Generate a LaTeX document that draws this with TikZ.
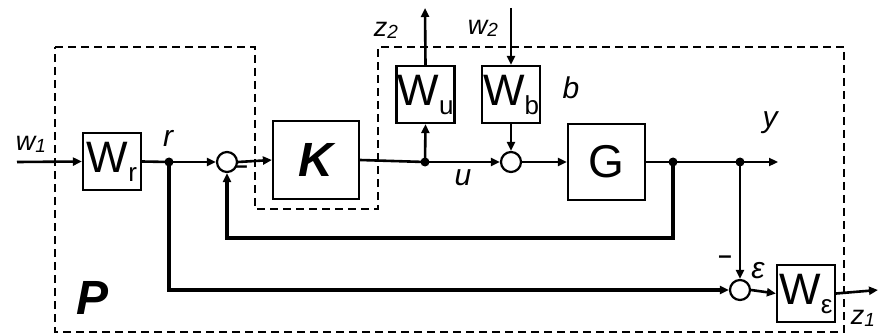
\documentclass[tikz,border=0pt]{standalone}
\usepackage{fontspec}
\setmainfont{Liberation Sans}
\usetikzlibrary{arrows.meta}
\newcommand\fsz[1]{\fontsize{#1}{#1}\selectfont}
\begin{document}
\begin{tikzpicture}[x=1pt,y=-1pt,
  blk/.style={draw, line width=2.2pt, minimum width=58pt, minimum height=57pt, inner sep=0pt},
  sumc/.style={circle, draw, line width=2.2pt, minimum size=20pt, inner sep=0pt},
  jdot/.style={circle, fill, minimum size=9pt, inner sep=0pt},
  sig/.style={line width=2.6pt},
  fb/.style={line width=3.2pt},
  arr/.style={-{Triangle[length=9pt,width=8pt]}},
  dsh/.style={line width=2.4pt, dash pattern=on 8pt off 5pt},
  lbl/.style={font=\fsz{30}\itshape, inner sep=0pt},
  sml/.style={font=\fsz{27}\itshape, inner sep=0pt},
  big/.style={font=\fsz{42}, inner sep=0pt}]
\useasboundingbox (0,0) rectangle (878,334);
% dashed box P
\draw[dsh] (55,47) -- (255,47) -- (255,209) -- (378,209) -- (378,47) -- (844,47) -- (844,332) -- (55,332) -- cycle;
% blocks
\node[blk] (Wr) at (112,161.5) {\fsz{44}W\raisebox{-9pt}{\fsz{26}r}};
\node[blk, minimum width=86pt, minimum height=78pt] (K) at (316,160) {\fsz{48}\bfseries\itshape K};
\node[blk] (Wu) at (425.5,94.5) {\fsz{44}W\raisebox{-9pt}{\fsz{26}u}};
\node[blk] (Wb) at (511,94.5) {\fsz{44}W\raisebox{-9pt}{\fsz{26}b}};
\node[blk, minimum width=77pt, minimum height=76pt] (G) at (606.5,162) {\fsz{46}G};
\node[blk] (We) at (806,293.5) {\fsz{44}W\raisebox{-9pt}{\fsz{26}ε}};
% summing junctions
\node[sumc] (S1) at (227,162) {};
\node[sumc] (S2) at (511,162) {};
\node[sumc] (S3) at (740,290) {};
% junction dots
\node[jdot] (jr) at (169,162) {};
\node[jdot] (ju) at (425,162) {};
\node[jdot] (j1) at (673,162) {};
\node[jdot] (j2) at (740,162) {};
% free ends
\coordinate (w1in) at (17,162);
\coordinate (z2out) at (425,8);
\coordinate (w2in) at (511,8);
\coordinate (yout) at (778,162);
\coordinate (z1out) at (878,290);
\coordinate (fb1) at (673,238);
\coordinate (fb2) at (227,238);
\coordinate (rb) at (169,290);
% connectors
\draw[sig,arr] (w1in) -- (Wr.west);
\draw[sig] (Wr.east) -- (jr.center);
\draw[sig,arr] (jr.center) -- (S1.west);
\draw[sig,arr] (S1.east) -- (K.west);
\draw[sig] (K.east) -- (ju.center);
\draw[sig,arr] (ju.center) -- (S2.west);
\draw[sig,arr] (ju.center) -- (Wu.south);
\draw[sig,arr] (Wu.north) -- (z2out);
\draw[sig,arr] (w2in) -- (Wb.north);
\draw[sig,arr] (Wb.south) -- (S2.north);
\draw[sig,arr] (S2.east) -- (G.west);
\draw[sig] (G.east) -- (j1.center) -- (j2.center);
\draw[sig,arr] (j2.center) -- (yout);
\draw[fb,arr] (j1.center) -- (fb1) -- (fb2) -- (S1.south);
\draw[fb,arr] (jr.center) -- (rb) -- (S3.west);
\draw[sig,arr] (j2.center) -- (S3.north);
\draw[sig,arr] (S3.east) -- (We.west);
\draw[sig,arr] (We.east) -- (z1out);
% labels
\node[sml] (lw1) at (31,144) {w\raisebox{-2pt}{\fsz{19}1}};
\node[lbl] (lr) at (168,138) {r};
\node[font=\fsz{24}\bfseries, inner sep=0pt] (m1) at (241,170) {–};
\node[sml] (lz2) at (386,30) {z\raisebox{-2pt}{\fsz{19}2}};
\node[sml] (lw2) at (483,28) {w\raisebox{-2pt}{\fsz{19}2}};
\node[lbl] (lb) at (571,88) {b};
\node[lbl] (lu) at (463,178) {u};
\node[lbl] (ly) at (770,123) {y};
\node[font=\fsz{24}\bfseries, inner sep=0pt] (m3) at (725,260) {–};
\node[lbl] (le) at (758,271) {ε};
\node[sml] (lz1) at (863,318) {z\raisebox{-2pt}{\fsz{19}1}};
\node[font=\fsz{48}\bfseries\itshape, inner sep=0pt] (lP) at (93,298) {P};
\end{tikzpicture}
\end{document}
